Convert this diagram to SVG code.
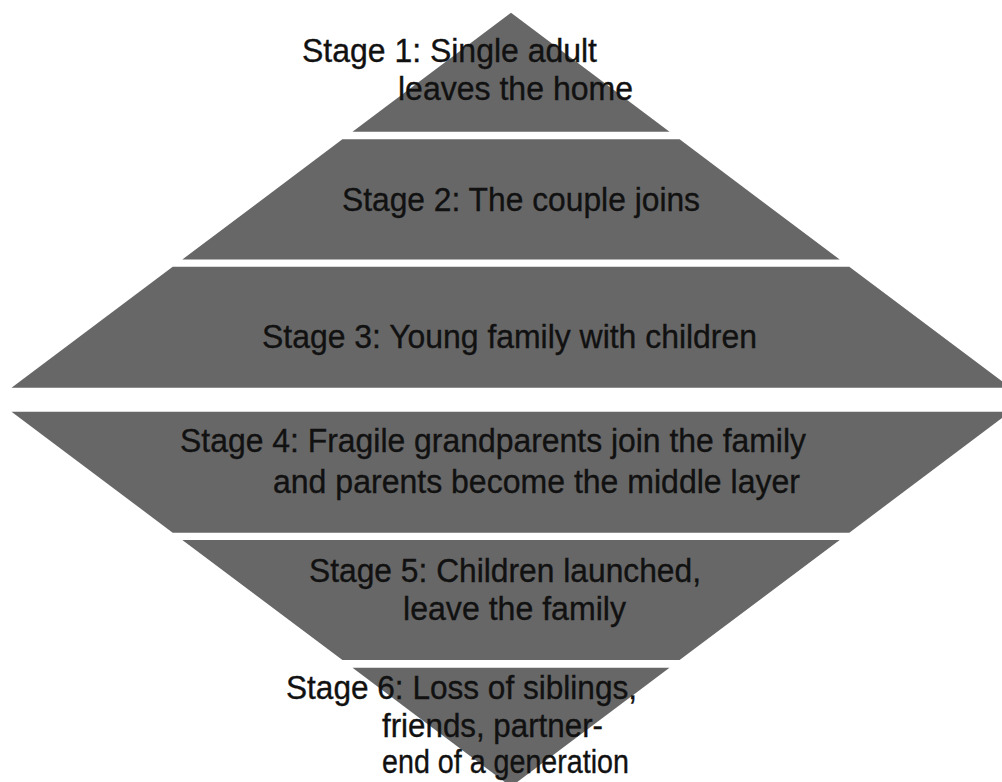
<svg xmlns="http://www.w3.org/2000/svg" width="1002" height="782" viewBox="0 0 1002 782">
<style>
.band{fill:#676767;stroke:none}
.lbl{font-family:"Liberation Sans",Arial,sans-serif;font-size:32.5px;fill:#111111;stroke:#111111;stroke-width:0.35}
</style>
<rect x="0" y="0" width="1002" height="782" fill="#ffffff"/>
<g id="stage1">
<polygon class="band" points="511,12.7 669.5,131.7 352.5,131.7"/>
<text class="lbl" x="302" y="62" textLength="295" lengthAdjust="spacingAndGlyphs">Stage 1: Single adult</text>
<text class="lbl" x="398" y="100" textLength="235" lengthAdjust="spacingAndGlyphs">leaves the home</text>
</g>
<g id="stage2">
<polygon class="band" points="342.4,139.3 679.6,139.3 839.7,259.5 182.3,259.5"/>
<text class="lbl" x="342" y="211" textLength="358" lengthAdjust="spacingAndGlyphs">Stage 2: The couple joins</text>
</g>
<g id="stage3">
<polygon class="band" points="172.7,266.7 849.3,266.7 1010.5,387.7 11.5,387.7"/>
<text class="lbl" x="262" y="348" textLength="495" lengthAdjust="spacingAndGlyphs">Stage 3: Young family with children</text>
</g>
<g id="stage4">
<polygon class="band" points="11.5,411.7 1010.5,411.7 849.3,532.7 172.7,532.7"/>
<text class="lbl" x="180" y="452" textLength="626" lengthAdjust="spacingAndGlyphs">Stage 4: Fragile grandparents join the family</text>
<text class="lbl" x="273" y="493" textLength="527" lengthAdjust="spacingAndGlyphs">and parents become the middle layer</text>
</g>
<g id="stage5">
<polygon class="band" points="182.3,539.9 839.7,539.9 679.6,660.1 342.4,660.1"/>
<text class="lbl" x="309" y="582" textLength="392" lengthAdjust="spacingAndGlyphs">Stage 5: Children launched,</text>
<text class="lbl" x="403" y="620" textLength="223" lengthAdjust="spacingAndGlyphs">leave the family</text>
</g>
<g id="stage6">
<polygon class="band" points="352.5,667.7 669.5,667.7 511,786.7"/>
<text class="lbl" x="286" y="699" textLength="351" lengthAdjust="spacingAndGlyphs">Stage 6: Loss of siblings,</text>
<text class="lbl" x="382" y="737" textLength="221" lengthAdjust="spacingAndGlyphs">friends, partner-</text>
<text class="lbl" x="382" y="773" textLength="247" lengthAdjust="spacingAndGlyphs">end of a generation</text>
</g>
<g id="connectors"/>
</svg>
